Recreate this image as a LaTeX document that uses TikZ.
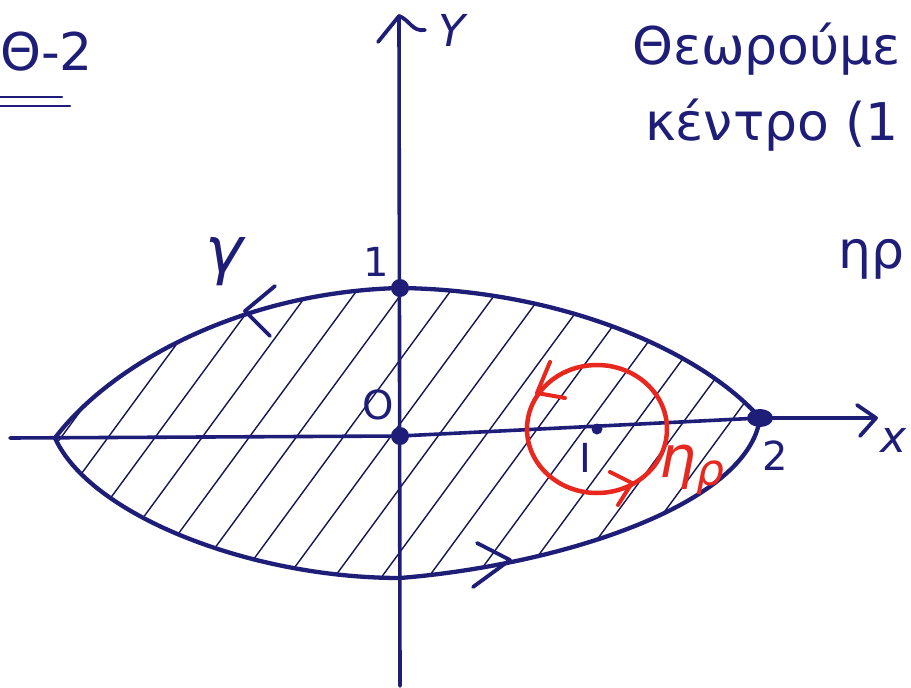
\documentclass[tikz,border=0pt]{standalone}
\usepackage{fontspec}
\setmainfont{DejaVu Sans}
\usetikzlibrary{shapes.geometric}
\definecolor{pen}{RGB}{30,30,120}
\definecolor{redpen}{RGB}{232,40,30}
\begin{document}
\begin{tikzpicture}[x=1pt,y=-1pt, line cap=round, line join=round,
  curve/.style={pen, line width=4.3pt},
  axis/.style={pen, line width=3.6pt},
  hatch/.style={pen!70!black, line width=1.4pt},
  chev/.style={pen, line width=3.8pt},
  rchev/.style={redpen, line width=4pt},
  dot/.style={circle, fill=pen, inner sep=0pt, minimum size=18pt},
  smalldot/.style={circle, fill=pen, inner sep=0pt, minimum size=11pt},
  lab/.style={pen, inner sep=0pt, font=\fontsize{40}{40}\selectfont},
  txt/.style={pen, anchor=base west, inner sep=0pt, font=\fontsize{52}{60}\selectfont}]
\useasboundingbox (0,0) rectangle (911,688);
\fill[white] (0,0) rectangle (911,688);

% key points of the contour
\coordinate (L) at (55,438);
\coordinate (T) at (400,288);
\coordinate (R) at (760,418);
\coordinate (B) at (400,578);
\coordinate (O) at (400,436);
\coordinate (I) at (597,429);

% hatching
\begin{scope}
  \clip (L) .. controls (110,365) and (240,292) .. (T)
        .. controls (560,290) and (700,350) .. (R)
        .. controls (748,505) and (560,565) .. (B)
        .. controls (250,578) and (90,515) .. (L) -- cycle;
  \foreach \x in {-330,-283,...,900} \draw[hatch] (\x,650) -- ++(290,-395);
\end{scope}

% axes
\coordinate (xs) at (10,438);
\coordinate (xe) at (876,418);
\coordinate (ys) at (400,686);
\coordinate (ye) at (399,16);
\draw[axis] (xs) -- (O) -- (R) -- (xe);
\draw[axis] (ys) -- (ye);
\draw[chev] (857,405) -- (xe) -- (860,436);
\draw[chev] (378,42) -- (ye) .. controls (410,20) and (412,32) .. (425,30);

% contour gamma
\draw[curve] (L) .. controls (110,365) and (240,292) .. (T)
        .. controls (560,290) and (700,350) .. (R)
        .. controls (748,505) and (560,565) .. (B)
        .. controls (250,578) and (90,515) .. (L);
\coordinate (g1) at (245,311);
\draw[chev] (275,286) -- (g1) -- (270,336);
\coordinate (g2) at (510,560);
\draw[chev] (477,543) -- (g2) -- (473,587);

% small circle eta_rho
\draw[redpen, line width=4.5pt] (I) ellipse [x radius=70pt, y radius=64pt];
\coordinate (r1) at (537,393);
\draw[rchev] (550,362) -- (r1) -- (565,398);
\coordinate (r2) at (632,483);
\draw[rchev] (610,472) -- (r2) -- (618,505);

% dots
\node[dot] (dT) at (T) {};
\node[dot] (dO) at (O) {};
\node[ellipse, fill=pen, inner sep=0pt, minimum width=26pt, minimum height=18pt] (dR) at (R) {};
\node[smalldot] (dI) at (I) {};

% labels
\node[lab] (l1) at (376,262) {1};
\node[lab] (lO) at (378,405) {O};
\node[lab] (l2) at (775,456) {2};
\node[lab] (lI) at (585,458) {I};
\node[pen, inner sep=0pt, font=\fontsize{64}{64}\selectfont\itshape] (lg) at (224,262) {γ};
\node[redpen, inner sep=0pt, font=\fontsize{58}{58}\selectfont\itshape] (leta) at (692,470) {η\raisebox{-8pt}{\fontsize{44}{44}\selectfont ρ}};
\node[pen, inner sep=0pt, font=\fontsize{44}{44}\selectfont\itshape] (lY) at (452,30) {Y};
\node[pen, anchor=west, inner sep=0pt, font=\fontsize{44}{44}\selectfont\itshape] (lx) at (880,440) {x};

% texts
\node[txt] (t0) at (0,70) {Θ-2};
\draw[pen, line width=2.5pt] (0,97) -- (62,97);
\draw[pen, line width=2.5pt] (0,106) -- (70,106);
\node[txt] (t1) at (632,64) {Θεωρούμε};
\node[txt] (t2) at (645,140) {κέντρο (1};
\node[txt] (t3) at (838,268) {ηρ};
\end{tikzpicture}
\end{document}
